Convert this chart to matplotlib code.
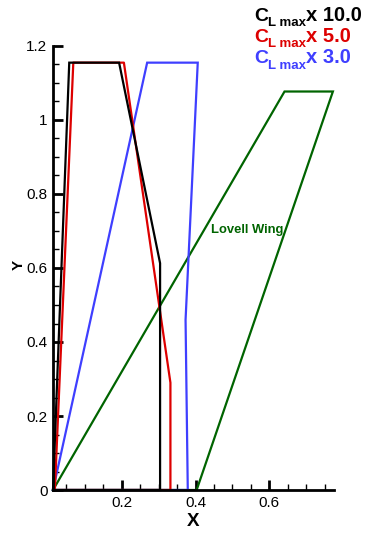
import matplotlib
matplotlib.use("Agg")
import matplotlib.pyplot as plt
import numpy as np

plt.rcParams['font.family'] = ['Liberation Sans', 'DejaVu Sans']

# Wing planform outlines (x, y)
black_x = [0.014, 0.058, 0.193, 0.304, 0.304, 0.014]
black_y = [0.0, 1.155, 1.155, 0.613, 0.0, 0.0]

red_x = [0.019, 0.069, 0.206, 0.332, 0.332, 0.019]
red_y = [0.0, 1.155, 1.155, 0.290, 0.0, 0.0]

blue_x = [0.014, 0.269, 0.406, 0.373, 0.379, 0.014]
blue_y = [0.0, 1.155, 1.155, 0.460, 0.0, 0.0]

lovell_x = [0.014, 0.641, 0.772, 0.403, 0.014]
lovell_y = [0.0, 1.077, 1.077, 0.0, 0.0]

series_labels = ["x 10.0", "x 5.0", "x 3.0"]
x_ticks = [0.2, 0.4, 0.6]
x_tick_labels = ["0.2", "0.4", "0.6"]
y_ticks = [0, 0.2, 0.4, 0.6, 0.8, 1.0, 1.2]
y_tick_labels = ["0", "0.2", "0.4", "0.6", "0.8", "1", "1.2"]

BLACK = "#000000"
RED = "#dd0000"
BLUE = "#3f3fff"
GREEN = "#006400"

W, H = 368, 539
fig = plt.figure(figsize=(W / 100, H / 100), dpi=100)
ax = fig.add_axes([53 / W, 1 - 490 / H, (334 - 53) / W, (490 - 46) / H])

lw = 1.6
ax.plot(lovell_x, lovell_y, color=GREEN, lw=lw, solid_joinstyle='miter', clip_on=False)
ax.plot(blue_x, blue_y, color=BLUE, lw=lw, solid_joinstyle='miter', clip_on=False)
ax.plot(red_x, red_y, color=RED, lw=lw, solid_joinstyle='round', clip_on=False)
ax.plot(black_x, black_y, color=BLACK, lw=lw, solid_joinstyle='miter', clip_on=False)

ax.set_xlim(0.014, 0.775)
ax.set_ylim(0, 1.2)

for s in ("top", "right"):
    ax.spines[s].set_visible(False)
for s in ("left", "bottom"):
    ax.spines[s].set_linewidth(2.0)

ax.set_xticks(x_ticks)
ax.set_xticklabels(x_tick_labels)
ax.set_yticks(y_ticks)
ax.set_yticklabels(y_tick_labels)
ax.set_xticks(np.arange(0.05, 0.776, 0.05), minor=True)
ax.set_yticks(np.arange(0.05, 1.2, 0.05), minor=True)
ax.tick_params(which="major", direction="in", length=7.5, width=2.0,
               labelsize=11, pad=4)
ax.tick_params(which="minor", direction="in", length=4.5, width=1.0)

ax.text(0.441, 0.694, "Lovell Wing", color=GREEN, fontsize=9.4,
        fontweight="bold", ha="left", va="baseline")

fig.text(193.5 / W, 1 - 521.7 / H, "X", fontsize=13.5, fontweight="bold",
         ha="center", va="center")
fig.text(18.5 / W, 1 - 265 / H, "Y", fontsize=11, fontweight="bold",
         ha="center", va="center", rotation=90)

# Legend block: C with subscript "L max" followed by the scale factor
fig.canvas.draw()
renderer = fig.canvas.get_renderer()
baselines = [20.7, 41.7, 63.3]
colors = [BLACK, RED, BLUE]
for lab, base, col in zip(series_labels, baselines, colors):
    x0 = 254 / W
    yb = 1 - base / H
    t1 = fig.text(x0, yb, "C", fontsize=14, fontweight="bold", color=col,
                  ha="left", va="baseline")
    bb = t1.get_window_extent(renderer)
    t2 = fig.text(bb.x1 / W, yb - 5.3 / H, "L max", fontsize=9.5,
                  fontweight="bold", color=col, ha="left", va="baseline")
    bb2 = t2.get_window_extent(renderer)
    fig.text(bb2.x1 / W, yb, lab, fontsize=14.5, fontweight="bold", color=col,
             ha="left", va="baseline")

fig.savefig("out.png", dpi=100)
